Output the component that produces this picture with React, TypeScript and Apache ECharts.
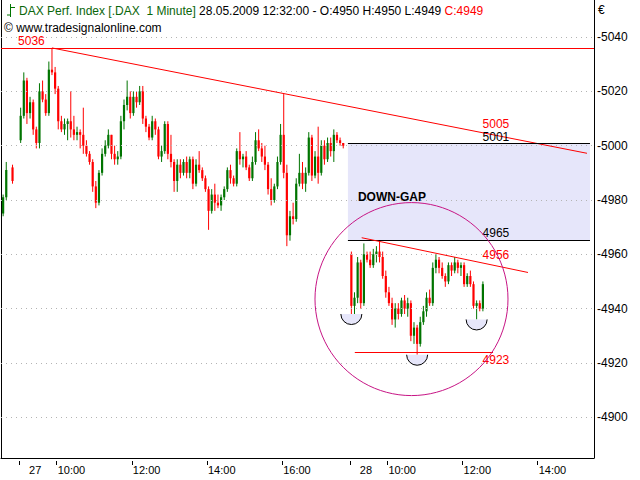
import React, { useEffect, useRef } from 'react';
import * as echarts from 'echarts';

// ---- time scale: minutes from 09:00 on 27.05 (sessions placed side by side)
const BAR_MINUTES = 5;
const X_MIN = -28.9;
const X_MAX = 917.9;
const DAY27_START = 0;
const DAY28_START = 528;

const xTicks = [0, 60, 180, 300, 420, 528, 588, 708, 828];
const xTickLabels = ['27', '10:00', '12:00', '14:00', '16:00', '28', '10:00', '12:00', '14:00'];
const dateLabels = ['27', '28'];

// ---- price scale
const Y_MIN = 4884.97;
const Y_MAX = 5053.66;
const yTicks = [4900, 4920, 4940, 4960, 4980, 5000, 5020, 5040];

// ---- 5-minute candles: [open, high, low, close]
const day26Times = [-28, -23, -13];
const day26Tail = [
  [4975, 4982, 4974, 4981],
  [4981, 4994, 4980, 4991],
  [4992, 4993, 4986, 4987],
];

const day27 = [
  [5002, 5014, 5001, 5011], [5011, 5027, 5010, 5024], [5024, 5025, 5008, 5012], [5012, 5018, 5010, 5016],
  [5016, 5017, 5004, 5006], [5006, 5007, 4999, 5001], [5001, 5023, 4999, 5020], [5020, 5024, 5016, 5017],
  [5017, 5019, 5011, 5012], [5012, 5031, 5011, 5028], [5028, 5036, 5026, 5027], [5027, 5029, 5019, 5021],
  [5021, 5022, 5006, 5009], [5009, 5011, 5005, 5006], [5006, 5010, 5004, 5008], [5008, 5010, 5002, 5009],
  [5009, 5020, 5003, 5006], [5006, 5011, 5002, 5004], [5004, 5007, 5002, 5005], [5005, 5006, 4999, 5004],
  [5004, 5014, 4997, 5000], [5000, 5002, 4996, 4997], [4997, 4998, 4993, 4994], [4994, 4995, 4983, 4985],
  [4985, 4987, 4977, 4979], [4979, 4991, 4978, 4990], [4990, 4999, 4989, 4997], [4997, 5002, 4996, 5000],
  [5000, 5006, 4999, 5004], [5004, 5004, 4995, 4997], [4997, 5000, 4993, 4995], [4995, 4998, 4993, 4996],
  [4996, 5011, 4995, 5009], [5009, 5017, 5006, 5015], [5015, 5024, 5013, 5018], [5018, 5020, 5010, 5012],
  [5012, 5020, 5011, 5018], [5018, 5020, 5014, 5016], [5016, 5022, 5015, 5020], [5020, 5022, 5008, 5010],
  [5010, 5011, 5005, 5007], [5007, 5008, 5002, 5003], [5003, 5011, 5002, 5009], [5009, 5010, 5004, 5006],
  [5006, 5007, 4995, 4996], [4996, 5000, 4994, 4998], [4998, 5009, 4997, 5008], [5008, 5009, 4995, 4997],
  [4997, 5004, 4992, 4994], [4994, 4995, 4983, 4987], [4987, 4995, 4983, 4993], [4993, 4995, 4988, 4990],
  [4990, 4995, 4989, 4994], [4994, 4996, 4988, 4990], [4990, 4996, 4988, 4995], [4995, 4996, 4984, 4986],
  [4986, 4995, 4985, 4993], [4993, 4998, 4990, 4991], [4991, 4992, 4987, 4988], [4988, 4989, 4983, 4984],
  [4984, 4985, 4969, 4976], [4976, 4984, 4975, 4982], [4982, 4986, 4976, 4979], [4979, 4982, 4977, 4978],
  [4978, 4982, 4976, 4981], [4981, 4985, 4980, 4984], [4984, 4992, 4983, 4991], [4991, 4993, 4986, 4988],
  [4988, 4989, 4985, 4986], [4986, 4999, 4985, 4998], [4998, 5005, 4993, 4995], [4995, 4997, 4992, 4996],
  [4996, 4998, 4991, 4992], [4992, 4993, 4987, 4988], [4988, 4996, 4987, 4994], [4994, 5005, 4993, 5002],
  [5002, 5006, 4998, 4999], [4999, 5001, 4994, 4996], [4996, 5000, 4991, 4993], [4993, 4994, 4982, 4984],
  [4984, 4988, 4978, 4980], [4980, 4986, 4979, 4985], [4985, 4996, 4984, 4994], [4994, 5008, 4993, 5004],
  [5004, 5019, 4988, 4990], [4990, 4993, 4963, 4967], [4967, 4976, 4965, 4974], [4974, 4979, 4971, 4973],
  [4973, 4988, 4972, 4986], [4986, 4997, 4985, 4990], [4990, 4994, 4984, 4986], [4986, 4992, 4983, 4990],
  [4990, 5005, 4989, 5003], [5003, 5004, 4987, 4989], [4989, 4998, 4988, 4996], [4996, 5007, 4986, 4990],
  [4990, 5002, 4989, 5000], [5000, 5002, 4993, 4995], [4995, 5003, 4994, 5001], [5001, 5003, 4996, 4998],
  [4998, 5006, 4994, 5004], [5004, 5005, 5001, 5002], [5002, 5003, 5000, 5001], [5001, 5001, 4999, 5000],
];

const day28 = [
  [4960, 4961, 4938, 4941], [4941, 4946, 4938, 4944], [4944, 4959, 4942, 4957], [4957, 4958, 4940, 4942],
  [4942, 4964, 4941, 4960], [4960, 4961, 4957, 4958], [4958, 4961, 4955, 4956], [4956, 4962, 4955, 4960],
  [4960, 4963, 4957, 4961], [4961, 4965, 4957, 4959], [4959, 4961, 4951, 4952], [4952, 4954, 4944, 4946],
  [4946, 4948, 4941, 4942], [4942, 4944, 4934, 4936], [4936, 4942, 4933, 4940], [4940, 4942, 4936, 4938],
  [4938, 4944, 4937, 4943], [4943, 4945, 4938, 4940], [4940, 4944, 4937, 4942], [4942, 4943, 4928, 4930],
  [4930, 4935, 4927, 4933], [4933, 4934, 4923, 4927], [4927, 4937, 4926, 4935], [4935, 4941, 4934, 4939],
  [4939, 4946, 4937, 4944], [4944, 4947, 4941, 4942], [4942, 4957, 4941, 4955], [4955, 4960, 4953, 4958],
  [4958, 4959, 4953, 4955], [4955, 4957, 4951, 4952], [4952, 4953, 4948, 4950], [4950, 4957, 4949, 4956],
  [4956, 4957, 4952, 4954], [4954, 4959, 4953, 4957], [4957, 4958, 4953, 4955], [4955, 4957, 4952, 4956],
  [4956, 4957, 4948, 4949], [4949, 4953, 4948, 4952], [4952, 4954, 4948, 4949], [4949, 4950, 4940, 4941],
  [4941, 4943, 4936, 4942], [4942, 4943, 4939, 4940], [4940, 4950, 4939, 4949],
];

// ---- header values
const headerSymbol = 'DAX Perf. Index [.DAX  1 Minute]';
const headerTime = '28.05.2009 12:32:00';
const lastBar = { o: 4950, h: 4950, l: 4949, c: 4949 };
const copyright = '© www.tradesignalonline.com';

// ---- drawn analysis (times in minutes, prices)
const highLevel = 5036;
const gapTop = 5001;
const gapBottom = 4965;
const supportLevel = 4924;
const trend1 = { from: [52.5, 5036], to: [906.7, 4997.2] };
const trend2 = { from: [547, 4966.1], to: [812.5, 4953.3] };
const gapSpan = [525, 911.5];
const supportSpan = [536, 756.7];
const labelTime = 740;
const trend1Label = '5005';
const trend2Label = '4956';
const supportLabel = '4923';
const circleCenter = [626.5, 4943.5];
const bowlCandles = [0, 21, 40];

const GREEN = '#007400';
const RED = '#ff0000';
const LAVENDER = '#e6e6fa';
const MAGENTA = '#c71585';
const FONT = '"Liberation Sans", Arial, sans-serif';

function buildCandles() {
  const rows: number[][] = [];
  day26Tail.forEach((c, i) => rows.push([day26Times[i], ...c]));
  day27.forEach((c, i) => rows.push([DAY27_START + i * BAR_MINUTES, ...c]));
  day28.forEach((c, i) => rows.push([DAY28_START + i * BAR_MINUTES, ...c]));
  return rows;
}

function lineAt(tr: { from: number[]; to: number[] }, t: number) {
  const k = (tr.to[1] - tr.from[1]) / (tr.to[0] - tr.from[0]);
  return tr.from[1] + (t - tr.from[0]) * k;
}

export default function App() {
  const ref = useRef<HTMLDivElement>(null);

  useEffect(() => {
    const el = ref.current!;
    const chart = echarts.init(el, null, { renderer: 'svg', width: 640, height: 480 });
    const candles = buildCandles();

    const option: any = {
      animation: false,
      backgroundColor: '#ffffff',
      grid: { left: 1, right: 46, top: 0, bottom: 22, containLabel: false, outerBoundsMode: 'none' },
      xAxis: [
        {
          type: 'value', min: X_MIN, max: X_MAX, position: 'bottom',
          axisLine: { show: true, onZero: false, lineStyle: { color: '#000', width: 1 } },
          axisTick: { show: false }, axisLabel: { show: false }, splitLine: { show: false },
        },
        {
          type: 'value', min: X_MIN, max: X_MAX, position: 'bottom', offset: 3,
          axisLine: { show: false, onZero: false },
          axisTick: { show: true, customValues: xTicks, length: 4, lineStyle: { color: '#000' } },
          axisLabel: {
            show: true, customValues: xTicks, align: 'left', margin: 3, color: '#000', fontSize: 11, fontFamily: FONT,
            formatter: (v: number) => {
              const s = xTickLabels[xTicks.indexOf(v)] ?? '';
              return dateLabels.includes(s) ? `{d|${s}}` : `{t|${s}}`;
            },
            rich: {
              d: { padding: [0, 0, 0, 10], fontSize: 11, fontFamily: FONT, color: '#000' },
              t: { padding: [0, 0, 0, 1], fontSize: 11, fontFamily: FONT, color: '#000' },
            },
          },
          splitLine: { show: false },
        },
      ],
      yAxis: [
        {
          type: 'value', min: Y_MIN, max: Y_MAX, position: 'right', scale: true,
          axisLine: { show: true, onZero: false, lineStyle: { color: '#000', width: 1 } },
          axisTick: { show: false },
          axisLabel: {
            show: true, customValues: yTicks, margin: 3, color: '#000', fontSize: 12, fontFamily: FONT,
            formatter: (v: number) => `-${v}`,
          },
          splitLine: { show: false },
        },
        {
          type: 'value', min: Y_MIN, max: Y_MAX, position: 'left', scale: true,
          axisLine: { show: true, onZero: false, lineStyle: { color: '#000', width: 1 } },
          axisTick: { show: false }, axisLabel: { show: false }, splitLine: { show: false },
        },
      ],
      series: [
        {
          name: 'gap', type: 'line', data: [], z: 1, silent: true,
          markArea: {
            silent: true, itemStyle: { color: LAVENDER },
            data: [[{ coord: [gapSpan[0], gapTop] }, { coord: [gapSpan[1], gapBottom] }]],
          },
        },
        {
          name: 'grid', type: 'line', data: [], z: 2, silent: true,
          markLine: {
            silent: true, symbol: ['none', 'none'], label: { show: false },
            lineStyle: { color: '#b4b4b4', type: [1, 4], width: 1 },
            data: yTicks.map((v) => ({ yAxis: v })),
          },
        },
        {
          name: 'DAX', type: 'custom', z: 3, clip: true,
          encode: { x: 0, y: [1, 2, 3, 4] },
          data: candles,
          renderItem: (_p: any, api: any) => {
            const t = api.value(0), o = api.value(1), h = api.value(2), l = api.value(3), c = api.value(4);
            const xc = api.coord([t + BAR_MINUTES / 2, o])[0];
            const yo = api.coord([t, o])[1];
            const yc = api.coord([t, c])[1];
            const yh = api.coord([t, h])[1];
            const yl = api.coord([t, l])[1];
            const col = c >= o ? GREEN : RED;
            const w = 2.2;
            return {
              type: 'group',
              children: [
                { type: 'line', shape: { x1: xc, y1: yh, x2: xc, y2: yl }, style: { stroke: col, lineWidth: 1 } },
                { type: 'rect', shape: { x: xc - w / 2, y: Math.min(yo, yc), width: w, height: Math.max(1, Math.abs(yc - yo)) }, style: { fill: col } },
              ],
            };
          },
        },
        {
          name: 'lines', type: 'line', data: [], z: 4, silent: true,
          markLine: {
            silent: true, symbol: ['none', 'none'], label: { show: false },
            data: [
              { yAxis: highLevel, lineStyle: { color: RED, width: 1, type: 'solid' } },
              [{ coord: trend1.from, lineStyle: { color: RED, width: 1, type: 'solid' } }, { coord: trend1.to }],
              [{ coord: [gapSpan[0], gapTop], lineStyle: { color: '#000', width: 1, type: 'solid' } }, { coord: [gapSpan[1], gapTop] }],
              [{ coord: [gapSpan[0], gapBottom], lineStyle: { color: '#000', width: 1, type: 'solid' } }, { coord: [gapSpan[1], gapBottom] }],
              [{ coord: trend2.from, lineStyle: { color: RED, width: 1, type: 'solid' } }, { coord: trend2.to }],
              [{ coord: [supportSpan[0], supportLevel], lineStyle: { color: RED, width: 1, type: 'solid' } }, { coord: [supportSpan[1], supportLevel] }],
            ],
          },
        },
      ],
    };
    chart.setOption(option);

    const px = (t: number) => chart.convertToPixel({ xAxisIndex: 0 }, t) as number;
    const py = (v: number) => chart.convertToPixel({ yAxisIndex: 0 }, v) as number;
    const lx = px(labelTime);
    const textStyle = (text: string, fill: string, extra: any = {}) => ({
      text, fill, fontSize: 12, fontFamily: FONT, verticalAlign: 'middle', align: 'left', ...extra,
    });

    const graphics: any[] = [];
    // header icon
    graphics.push(
      { type: 'line', z: 10, shape: { x1: 10.5, y1: 4, x2: 10.5, y2: 17 }, style: { stroke: GREEN, lineWidth: 1 } },
      { type: 'line', z: 10, shape: { x1: 7, y1: 15, x2: 10.5, y2: 15 }, style: { stroke: GREEN, lineWidth: 1 } },
      { type: 'line', z: 10, shape: { x1: 10.5, y1: 7.5, x2: 15, y2: 7.5 }, style: { stroke: GREEN, lineWidth: 1 } },
    );
    graphics.push({
      type: 'text', z: 10, x: 19, y: 10.5,
      style: {
        text: `{g|${headerSymbol}} {k|${headerTime} - O:${lastBar.o} H:${lastBar.h} L:${lastBar.l}} {r|C:${lastBar.c}}`,
        fontSize: 12, fontFamily: FONT, fill: '#000', verticalAlign: 'middle',
        rich: {
          g: { fill: '#0a660a', fontSize: 12, fontFamily: FONT },
          k: { fill: '#000', fontSize: 12, fontFamily: FONT },
          r: { fill: RED, fontSize: 12, fontFamily: FONT },
        },
      },
    });
    graphics.push({ type: 'text', z: 10, x: 4, y: 28, style: textStyle(copyright, '#000') });
    graphics.push({ type: 'text', z: 10, x: 598, y: 10, style: textStyle('€', '#000') });

    // level labels
    graphics.push({ type: 'text', z: 10, x: px(0) - 1, y: py(highLevel) - 7, style: textStyle(String(highLevel), RED) });
    graphics.push({ type: 'text', z: 10, x: lx, y: py(lineAt(trend1, labelTime)) - 9, style: textStyle(trend1Label, RED) });
    graphics.push({ type: 'text', z: 10, x: lx, y: py(gapTop) - 6, style: textStyle(String(gapTop), '#000') });
    graphics.push({ type: 'text', z: 10, x: lx, y: py(gapBottom) - 7.5, style: textStyle(String(gapBottom), '#000') });
    graphics.push({ type: 'text', z: 10, x: lx, y: py(lineAt(trend2, labelTime)) - 8, style: textStyle(trend2Label, RED) });
    graphics.push({ type: 'text', z: 10, x: lx, y: py(supportLevel) + 7.5, style: textStyle(supportLabel, RED) });
    graphics.push({
      type: 'text', z: 10, x: px(gapSpan[0]) + 10, y: (py(gapTop) + py(gapBottom)) / 2 + 5,
      style: textStyle('DOWN-GAP', '#000', { fontWeight: 'bold' }),
    });

    // circle
    graphics.push({
      type: 'circle', z: 10, shape: { cx: px(circleCenter[0]), cy: py(circleCenter[1]), r: 96.5 },
      style: { fill: 'none', stroke: MAGENTA, lineWidth: 1 },
    });

    // bowls under the lows
    bowlCandles.forEach((i) => {
      const t = DAY28_START + i * BAR_MINUTES + BAR_MINUTES / 2;
      const cx = px(t);
      const cy = py(day28[i][2]);
      const r = 10.5;
      graphics.push({
        type: 'sector', z: 9, shape: { cx, cy, r0: 0, r, startAngle: 0, endAngle: Math.PI, clockwise: true },
        style: { fill: LAVENDER, stroke: 'none' },
      });
      graphics.push({
        type: 'arc', z: 10, shape: { cx, cy, r, startAngle: 0, endAngle: Math.PI, clockwise: true },
        style: { stroke: '#000', lineWidth: 1, fill: 'none' },
      });
    });

    chart.setOption({ graphic: graphics });
    return () => chart.dispose();
  }, []);

  return (
    <div
      ref={ref}
      style={{ position: 'fixed', left: 0, top: 0, width: 640, height: 480, background: '#fff' }}
    />
  );
}
